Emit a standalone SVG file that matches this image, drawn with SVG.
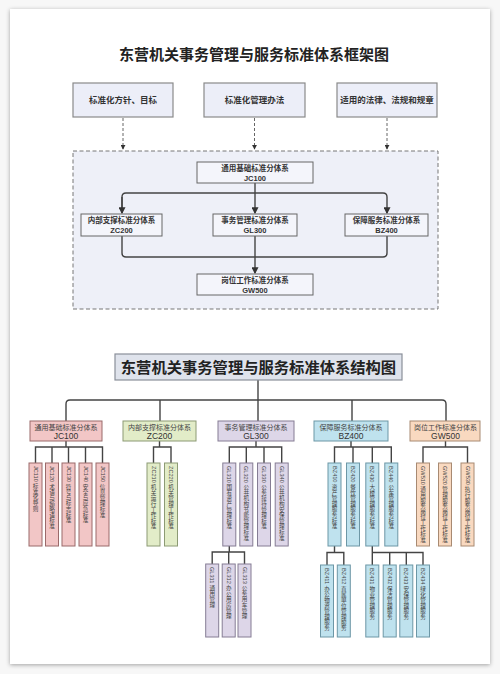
<svg xmlns="http://www.w3.org/2000/svg" width="500" height="674" viewBox="0 0 500 674">
<defs>
<filter id="sh" x="-5%" y="-5%" width="110%" height="110%"><feDropShadow dx="0" dy="1" stdDeviation="2" flood-color="#000" flood-opacity="0.35"/></filter>
<marker id="ar" viewBox="0 0 6 6" refX="5" refY="3" markerWidth="5" markerHeight="5" orient="auto"><path d="M0,0 L6,3 L0,6 z" fill="#333"/></marker>
<style>
text{font-family:"Liberation Sans","Noto Sans CJK SC",sans-serif;fill:#333}
.t1{font-size:15px;font-weight:bold;text-anchor:middle;fill:#222}
.t2{font-size:15.3px;font-weight:bold;text-anchor:middle;fill:#222}
.top{fill:#eceef8;stroke:#8a8a8a;stroke-width:1.2}
.tt{font-size:8.5px;font-weight:bold;text-anchor:middle}
.ib{fill:#f4f5fb;stroke:#666;stroke-width:1}
.it{font-size:7.5px;font-weight:bold;text-anchor:middle}
.ln{fill:none;stroke:#444;stroke-width:1.4}
.dl{fill:none;stroke:#666;stroke-width:1;stroke-dasharray:3,2}
.rt{font-size:7px;text-anchor:middle;fill:#444}
.rc{font-size:8.5px;text-anchor:middle;fill:#333}
.vt{font-size:5.6px;writing-mode:tb;fill:#444}
.jc{fill:#f2c6c6;stroke:#9a6a6a;stroke-width:1}
.zc{fill:#e2ecc8;stroke:#8c9a74;stroke-width:1}
.gl{fill:#ddd6e8;stroke:#857d94;stroke-width:1}
.bz{fill:#bfe2ee;stroke:#6d97a6;stroke-width:1}
.gw{fill:#f9d9c0;stroke:#a88a72;stroke-width:1}
</style>
</defs>
<rect x="0" y="0" width="500" height="674" fill="#f7f7f7"/>
<rect x="10" y="9" width="480" height="655" fill="#fff" filter="url(#sh)"/>

<text class="t1" x="254" y="60">东营机关事务管理与服务标准体系框架图</text>

<g id="top1"><rect class="top" x="73" y="83" width="100" height="34"/><text class="tt" x="123" y="103">标准化方针、目标</text></g>
<g id="top2"><rect class="top" x="204" y="83" width="101" height="34"/><text class="tt" x="254.5" y="103">标准化管理办法</text></g>
<g id="top3"><rect class="top" x="337" y="83" width="100" height="34"/><text class="tt" x="387" y="103">适用的法律、法规和规章</text></g>

<g id="frame"><rect x="73" y="151" width="365" height="158" fill="#eef0f8" stroke="#777" stroke-width="1" stroke-dasharray="4,2.5"/></g>

<g id="connectors">
<path class="dl" d="M123,118 V149" marker-end="url(#ar)"/>
<path class="dl" d="M254.5,118 V149" marker-end="url(#ar)"/>
<path class="dl" d="M387,118 V149" marker-end="url(#ar)"/>
<path class="ln" d="M255,183 V193"/>
<path class="ln" d="M122,213 V197 Q122,193 126,193 H383 Q387,193 387,197 V213" marker-end="url(#ar)"/>
<path class="ln" d="M122,197 V213" marker-end="url(#ar)"/>
<path class="ln" d="M255,193 V213" marker-end="url(#ar)"/>
<path class="ln" d="M122,236 V253 Q122,257 126,257 H383 Q387,257 387,253 V236"/>
<path class="ln" d="M255,236 V273" marker-end="url(#ar)"/>

<path class="ln" d="M258,380 V400"/>
<path class="ln" d="M66,421 V404 Q66,400 70,400 H442 Q446,400 446,404 V421"/>
<path class="ln" d="M160,400 V421 M258,400 V421 M352,400 V421"/>

<path class="ln" d="M66,441 V447 M35.5,463 V447 H102.5 V463 M52,447 V463 M68.5,447 V463 M85.5,447 V463"/>
<path class="ln" d="M159.5,441 V447 M153.5,463 V447 H171 V463"/>
<path class="ln" d="M256,441 V447 M229.3,463 V447 H281.7 V463 M246.3,447 V463 M264,447 V463"/>
<path class="ln" d="M351,441 V447 M334.5,463 V447 H391.3 V463 M353,447 V463 M372.3,447 V463"/>
<path class="ln" d="M445.5,441 V447 M423,463 V447 H467.5 V463"/>
<path class="ln" d="M229.3,546 V552 M212.2,564 V552 H244.5 V564 M228.7,552 V564"/>
<path class="ln" d="M334.5,546 V552.5 M327,565 V552.5 H343.8 V565"/>
<path class="ln" d="M372.3,546 V565 M372.3,552.5 H423 V565 M389.7,552.5 V565 M406.3,552.5 V565"/>
</g>

<g id="n-jc100a"><rect class="ib" x="197" y="162" width="116" height="21"/><text class="it" x="255" y="171">通用基础标准分体系</text><text class="it" x="255" y="180.5">JC100</text></g>
<g id="n-zc200a"><rect class="ib" x="81" y="214" width="81" height="22"/><text class="it" x="121.5" y="223">内部支撑标准分体系</text><text class="it" x="121.5" y="233">ZC200</text></g>
<g id="n-gl300a"><rect class="ib" x="213" y="214" width="84" height="22"/><text class="it" x="255" y="223">事务管理标准分体系</text><text class="it" x="255" y="233">GL300</text></g>
<g id="n-bz400a"><rect class="ib" x="345" y="214" width="83" height="22"/><text class="it" x="386.5" y="223">保障服务标准分体系</text><text class="it" x="386.5" y="233">BZ400</text></g>
<g id="n-gw500a"><rect class="ib" x="197" y="274" width="116" height="21"/><text class="it" x="255" y="283">岗位工作标准分体系</text><text class="it" x="255" y="292.5">GW500</text></g>

<g id="title2"><rect x="115" y="354" width="287" height="26" fill="#dfe3ec" stroke="#8a8f9a" stroke-width="1.2"/><text class="t2" x="258.5" y="372.5">东营机关事务管理与服务标准体系结构图</text></g>

<g id="r-jc100"><rect class="jc" x="30" y="421" width="72" height="20"/><text class="rt" x="66" y="430">通用基础标准分体系</text><text class="rc" x="66" y="439">JC100</text></g>
<g id="r-zc200"><rect class="zc" x="123" y="421" width="73" height="20"/><text class="rt" x="159.5" y="430">内部支撑标准分体系</text><text class="rc" x="159.5" y="439">ZC200</text></g>
<g id="r-gl300"><rect class="gl" x="218" y="421" width="76" height="20"/><text class="rt" x="256" y="430">事务管理标准分体系</text><text class="rc" x="256" y="439">GL300</text></g>
<g id="r-bz400"><rect class="bz" x="314" y="421" width="74" height="20"/><text class="rt" x="351" y="430">保障服务标准分体系</text><text class="rc" x="351" y="439">BZ400</text></g>
<g id="r-gw500"><rect class="gw" x="410" y="421" width="70" height="20"/><text class="rt" x="445.5" y="430">岗位工作标准分体系</text><text class="rc" x="445.5" y="439">GW500</text></g>

<g id="jc110"><rect class="jc" x="29" y="463" width="13" height="83"/><text class="vt" x="35.5" y="466">JC110 标准化导则</text></g>
<g id="jc120"><rect class="jc" x="45.5" y="463" width="13" height="83"/><text class="vt" x="52" y="466">JC120 术语与缩略语标准</text></g>
<g id="jc130"><rect class="jc" x="62" y="463" width="13" height="83"/><text class="vt" x="68.5" y="466">JC130 符号与标志标准</text></g>
<g id="jc140"><rect class="jc" x="79" y="463" width="13" height="83"/><text class="vt" x="85.5" y="466">JC140 安全与应急标准</text></g>
<g id="jc150"><rect class="jc" x="96" y="463" width="13" height="83"/><text class="vt" x="102.5" y="466">JC150 信息管理标准</text></g>

<g id="zc210"><rect class="zc" x="147" y="463" width="13" height="83"/><text class="vt" x="153.5" y="466">ZC210 机关运行工作标准</text></g>
<g id="zc220"><rect class="zc" x="164.5" y="463" width="13" height="83"/><text class="vt" x="171" y="466">ZC220 机关管理工作标准</text></g>

<g id="gl310"><rect class="gl" x="222.8" y="463" width="13" height="83"/><text class="vt" x="229.3" y="466">GL310 国有资产管理标准</text></g>
<g id="gl320"><rect class="gl" x="239.8" y="463" width="13" height="83"/><text class="vt" x="246.3" y="466">GL320 公共机构节能管理标准</text></g>
<g id="gl330"><rect class="gl" x="257.5" y="463" width="13" height="83"/><text class="vt" x="264" y="466">GL330 公务接待管理标准</text></g>
<g id="gl340"><rect class="gl" x="275.2" y="463" width="13" height="83"/><text class="vt" x="281.7" y="466">GL340 公共机构安保管理标准</text></g>

<g id="gl311"><rect class="gl" x="205.7" y="564" width="13" height="73"/><text class="vt" x="212.2" y="567">GL311 通用管理</text></g>
<g id="gl312"><rect class="gl" x="222.2" y="564" width="13" height="73"/><text class="vt" x="228.7" y="567">GL312 办公用房管理</text></g>
<g id="gl313"><rect class="gl" x="238" y="564" width="13" height="73"/><text class="vt" x="244.5" y="567">GL313 公务用车管理</text></g>

<g id="bz410"><rect class="bz" x="328" y="463" width="13" height="83"/><text class="vt" x="334.5" y="466">BZ410 资产管理服务标准</text></g>
<g id="bz420"><rect class="bz" x="346.5" y="463" width="13" height="83"/><text class="vt" x="353" y="466">BZ420 餐饮管理服务标准</text></g>
<g id="bz430"><rect class="bz" x="365.8" y="463" width="13" height="83"/><text class="vt" x="372.3" y="466">BZ430 大楼管理服务标准</text></g>
<g id="bz440"><rect class="bz" x="384.8" y="463" width="13" height="83"/><text class="vt" x="391.3" y="466">BZ440 公车管理服务标准</text></g>

<g id="bz411"><rect class="bz" x="320.5" y="565" width="13" height="72"/><text class="vt" x="327" y="568">BZ411 办公物资管理服务</text></g>
<g id="bz412"><rect class="bz" x="337.3" y="565" width="13" height="72"/><text class="vt" x="343.8" y="568">BZ412 直属单位管理服务</text></g>
<g id="bz431"><rect class="bz" x="365.8" y="565" width="13" height="72"/><text class="vt" x="372.3" y="568">BZ431 物业管理服务</text></g>
<g id="bz432"><rect class="bz" x="383.2" y="565" width="13" height="72"/><text class="vt" x="389.7" y="568">BZ432 保洁管理服务</text></g>
<g id="bz433"><rect class="bz" x="399.8" y="565" width="13" height="72"/><text class="vt" x="406.3" y="568">BZ433 安保管理服务</text></g>
<g id="bz434"><rect class="bz" x="416.5" y="565" width="13" height="72"/><text class="vt" x="423" y="568">BZ434 绿化管理服务</text></g>

<g id="gw510"><rect class="gw" x="416.5" y="463" width="13" height="83"/><text class="vt" x="423" y="466">GW510 通用服务岗位工作标准</text></g>
<g id="gw520"><rect class="gw" x="438.5" y="463" width="13" height="83"/><text class="vt" x="445" y="466">GW520 管理服务岗位工作标准</text></g>
<g id="gw530"><rect class="gw" x="461" y="463" width="13" height="83"/><text class="vt" x="467.5" y="466">GW530 执行服务岗位工作标准</text></g>
</svg>
